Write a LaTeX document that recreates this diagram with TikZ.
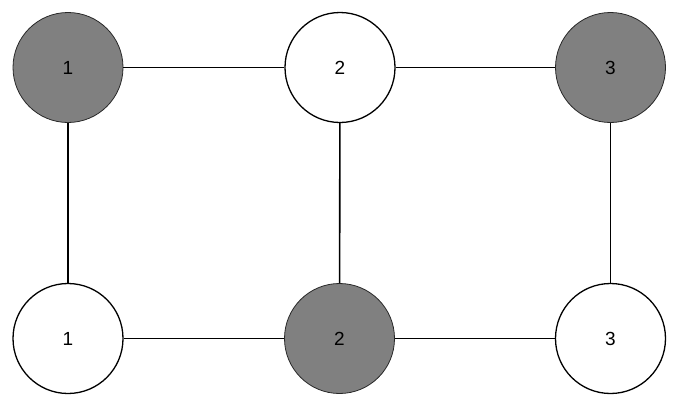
\documentclass[tikz,border=0pt]{standalone}
\usepackage{fontspec}
\setmainfont{Liberation Sans}
\begin{document}
\begin{tikzpicture}[x=1pt,y=-1pt,
  vtx/.style={circle,minimum size=110pt,inner sep=0pt,font=\fontsize{19}{22}\selectfont},
  dark/.style={vtx,fill={rgb,255:red,128;green,128;blue,128},draw={rgb,255:red,40;green,40;blue,40},line width=0.8pt},
  light/.style={vtx,fill=white,draw=black,line width=1.3pt},
  edge/.style={draw=black,line width=1.6pt}]
\useasboundingbox (0,0) rectangle (679,407);
\node[dark]  (a1) at (68,67.5) {1};
\node[light] (a2) at (340,67.5) {2};
\node[dark]  (a3) at (610.5,67.5) {3};
\node[light] (b1) at (68,338.5) {1};
\node[dark]  (b2) at (339.5,338.5) {2};
\node[light] (b3) at (610.5,338.5) {3};
\draw[edge] (a1) -- (a2);
\draw[edge] (a2) -- (a3);
\draw[edge] (b1) -- (b2);
\draw[edge] (b2) -- (b3);
\draw[edge] (a1) -- (b1);
\draw[edge] (a2) -- (b2);
\draw[edge] (a3) -- (b3);
\end{tikzpicture}
\end{document}
